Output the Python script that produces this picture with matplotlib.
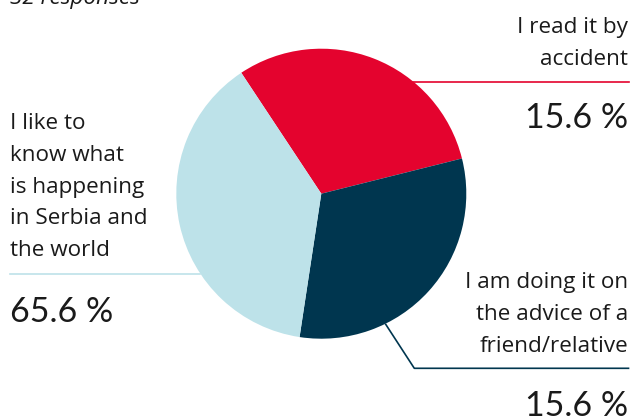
import matplotlib
matplotlib.use("Agg")
import matplotlib.pyplot as plt

# Data
categories = ["I read it by accident",
              "I am doing it on the advice of a friend/relative",
              "I like to know what is happening in Serbia and the world"]
percent_labels = [15.6, 15.6, 65.6]
# slice sizes as drawn in the reference picture (share of the circle)
slice_sizes = [30.4, 31.3, 38.3]
colors = ["#E4032E", "#00364F", "#BDE2E9"]
caption = "32 responses"

W, H = 633, 420
fig = plt.figure(figsize=(W / 100, H / 100), dpi=100)
plt.rcParams['font.family'] = ['Open Sans', 'DejaVu Sans']

cx, cy, r = 321.3, 193.7, 145.0
ax = fig.add_axes([(cx - r) / W, (H - cy - r) / H, 2 * r / W, 2 * r / H])
ax.pie(slice_sizes, colors=colors, startangle=123.5, counterclock=False,
       radius=1, wedgeprops=dict(linewidth=0))
ax.set_xlim(-1, 1)
ax.set_ylim(-1, 1)
ax.set_aspect('equal')
ax.axis('off')

ov = fig.add_axes([0, 0, 1, 1], zorder=-1)
ov.set_xlim(0, W)
ov.set_ylim(H, 0)
ov.axis('off')
ov.patch.set_alpha(0)

txt = "#1a1a1a"
lab_fs = 16.2
pct_fs = 24.5
pct_font = ['Lato', 'DejaVu Sans']

# caption (cut off at top, as in the reference)
ov.text(10, 4, caption, fontsize=lab_fs, style='italic', color=txt, va='baseline', ha='left')

# red label
for i, line in enumerate(["I read it by", "accident"]):
    ov.text(628, 33.5 + i * 31.7, line, fontsize=lab_fs, color=txt, ha='right', va='baseline')
ov.plot([413, 629], [82.3, 82.3], color=colors[0], lw=1.2)
ov.text(628, 128.3, f"{percent_labels[0]} %", fontsize=pct_fs, family=pct_font, color=txt,
        ha='right', va='baseline')

# navy label
for i, line in enumerate(["I am doing it on", "the advice of a", "friend/relative"]):
    ov.text(628, 288.3 + i * 32, line, fontsize=lab_fs, color=txt, ha='right', va='baseline')
ov.plot([385.7, 414.3, 628.5], [324.3, 368.3, 368.3], color=colors[1], lw=1.2)
ov.text(628, 416, f"{percent_labels[1]} %", fontsize=pct_fs, family=pct_font, color=txt,
        ha='right', va='baseline')

# light blue label
for i, line in enumerate(["I like to", "know what", "is happening", "in Serbia and", "the world"]):
    ov.text(10, 129.3 + i * 31.7, line, fontsize=lab_fs, color=txt, ha='left', va='baseline')
ov.plot([10, 200], [274.2, 274.2], color=colors[2], lw=1.2)
ov.text(10, 321.7, f"{percent_labels[2]} %", fontsize=pct_fs, family=pct_font, color=txt,
        ha='left', va='baseline')

fig.savefig("out.png", dpi=100)
